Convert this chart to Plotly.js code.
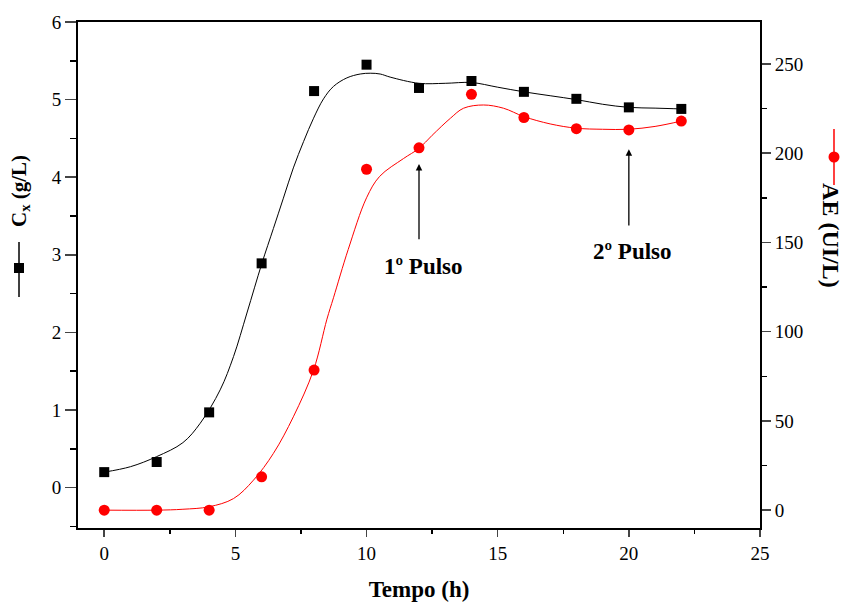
<!DOCTYPE html>
<html>
<head>
<meta charset="utf-8">
<script src="https://cdn.plot.ly/plotly-3.0.1.min.js"></script>
<style>
  html, body { margin: 0; padding: 0; background: #fff; }
  #chart { width: 843px; height: 604px; }
</style>
</head>
<body>
<div id="chart"></div>
<script>
// Sampling times (h)
const tempo = [0, 2, 4, 6, 8, 10, 12, 14, 16, 18, 20, 22];
// Biomass concentration Cx (g/L)
const cx = [0.20, 0.33, 0.97, 2.89, 5.11, 5.45, 5.15, 5.24, 5.10, 5.01, 4.90, 4.88];
// Enzyme activity AE (UI/L)
const ae = [0, 0, 0, 18.7, 78.5, 191, 203, 233, 220, 213.7, 213, 218];

// Smoothed fit through the Cx data
const cxFitT = [0, 1, 2, 3, 3.66, 4.42, 4.93, 5.44, 6.01, 6.45, 6.83, 7.21, 7.6, 7.98, 8.36, 8.74, 9.25, 9.76, 10.14, 10.52, 10.9, 12, 13, 14, 15, 16, 17, 18, 19, 20, 21, 22];
const cxFitV = [0.20, 0.27, 0.40, 0.58, 0.83, 1.26, 1.69, 2.25, 2.89, 3.34, 3.73, 4.12, 4.46, 4.76, 5.01, 5.17, 5.28, 5.33, 5.34, 5.33, 5.29, 5.21, 5.21, 5.22, 5.16, 5.10, 5.05, 5.00, 4.94, 4.90, 4.89, 4.88];

// Smoothed fit through the AE data
const aeFitT = [0, 2, 3, 4, 4.93, 5.69, 6.45, 7.21, 7.98, 8.49, 8.74, 9.3, 10.0, 10.5, 11.41, 12, 12.5, 13.2, 13.7, 14.46, 15.22, 16, 17, 18, 19, 20, 21, 22];
const aeFitV = [0, 0, 0.5, 1.9, 6.5, 16.8, 31.8, 52.3, 78.5, 107, 119, 146, 175, 187, 197, 202.7, 210, 219.6, 225.2, 227, 225.2, 220.5, 216.4, 214, 213.4, 213.4, 215, 218];

// Feed pulses: time, arrow head / tail (left-axis units), label
const pulsoT = [12, 20];
const pulsoHead = [4.17, 4.36];
const pulsoTail = [3.18, 3.36];
const pulsoLabelY = [2.85, 3.04];
const pulsoLabel = ['1º Pulso', '2º Pulso'];

const serif = 'Liberation Serif';

const traces = [
  { x: cxFitT, y: cxFitV, mode: 'lines', line: { color: '#000', width: 1, shape: 'spline', smoothing: 1 }, hoverinfo: 'skip', showlegend: false },
  { x: aeFitT, y: aeFitV, yaxis: 'y2', mode: 'lines', line: { color: '#ff0000', width: 1, shape: 'spline', smoothing: 1 }, hoverinfo: 'skip', showlegend: false },
  { x: tempo, y: cx, mode: 'markers', marker: { symbol: 'square', size: 10, color: '#000' }, name: 'Cx', showlegend: false },
  { x: tempo, y: ae, yaxis: 'y2', mode: 'markers', marker: { symbol: 'circle', size: 11, color: '#ff0000' }, name: 'AE', showlegend: false }
];

const annotations = [];
pulsoT.forEach((t, i) => {
  annotations.push({
    x: t, y: pulsoHead[i], ax: t, ay: pulsoTail[i], xref: 'x', yref: 'y', axref: 'x', ayref: 'y',
    text: '', showarrow: true, arrowhead: 2, arrowsize: 1, arrowwidth: 1.3, arrowcolor: '#000', standoff: 0, startstandoff: 0
  });
  annotations.push({
    x: t, y: pulsoLabelY[i], xref: 'x', yref: 'y', xshift: 4, text: '<b>' + pulsoLabel[i] + '</b>',
    showarrow: false, font: { family: serif, size: 23, color: '#000' }, xanchor: 'center', yanchor: 'middle'
  });
});

// Axis titles (the series keys beside them are drawn as shapes)
annotations.push({
  xref: 'paper', yref: 'paper', x: -0.085, y: 0.666, textangle: -90, showarrow: false,
  xanchor: 'center', yanchor: 'middle',
  text: '<b>C<sub>x</sub> (g/L)</b>', font: { family: serif, size: 21, color: '#000' }
});
annotations.push({
  xref: 'paper', yref: 'paper', x: 1.104, y: 0.577, textangle: 90, showarrow: false,
  xanchor: 'center', yanchor: 'middle',
  text: '<b>AE (UI/L)</b>', font: { family: serif, size: 24, color: '#000' }
});

// Series keys: a short line with the marker in the middle
const shapes = [
  { type: 'line', xref: 'paper', yref: 'paper', x0: -0.0865, x1: -0.0865, y0: 0.4565, y1: 0.5652, line: { color: '#000', width: 1.5 } },
  { type: 'rect', xref: 'paper', yref: 'paper', xsizemode: 'pixel', ysizemode: 'pixel', xanchor: -0.0865, yanchor: 0.5138,
    x0: -5, x1: 5, y0: -5, y1: 5, fillcolor: '#000', line: { width: 0 } },
  { type: 'line', xref: 'paper', yref: 'paper', x0: 1.1085, x1: 1.1085, y0: 0.6779, y1: 0.7885, line: { color: '#ff0000', width: 1.5 } },
  { type: 'circle', xref: 'paper', yref: 'paper', xsizemode: 'pixel', ysizemode: 'pixel', xanchor: 1.1085, yanchor: 0.7332,
    x0: -5.5, x1: 5.5, y0: -5.5, y1: 5.5, fillcolor: '#ff0000', line: { width: 0 } }
];

function tickFont() { return { family: serif, size: 19, color: '#000' }; }

const layout = {
  width: 843, height: 604,
  margin: { l: 78, r: 83, t: 22, b: 76 },
  font: { family: serif, size: 19, color: '#000' },
  paper_bgcolor: '#fff', plot_bgcolor: '#fff',
  showlegend: false,
  xaxis: {
    range: [-1, 25], tick0: 0, dtick: 5, ticks: 'outside', ticklen: 7, tickwidth: 1.5,
    minor: { dtick: 2.5, ticks: 'outside', ticklen: 4, tickwidth: 1.5, tickcolor: '#000' },
    showline: true, linewidth: 2, linecolor: '#000', mirror: true, showgrid: false, zeroline: false,
    tickfont: tickFont(),
    title: { text: '<b>Tempo (h)</b>', font: { family: serif, size: 23, color: '#000' }, standoff: 18 }
  },
  yaxis: {
    range: [-0.52, 6], tick0: 0, dtick: 1, ticks: 'outside', ticklen: 11, tickwidth: 1.5,
    minor: { dtick: 0.5, ticks: 'outside', ticklen: 6, tickwidth: 1.5, tickcolor: '#000' },
    showline: true, linewidth: 2, linecolor: '#000', showgrid: false, zeroline: false,
    tickfont: tickFont()
  },
  yaxis2: {
    overlaying: 'y', side: 'right',
    range: [-10, 273.5], tick0: 0, dtick: 50, ticks: 'outside', ticklen: 9, tickwidth: 1.5,
    minor: { dtick: 25, ticks: 'outside', ticklen: 5, tickwidth: 1.5, tickcolor: '#000' },
    showline: true, linewidth: 2, linecolor: '#000', showgrid: false, zeroline: false,
    tickfont: tickFont()
  },
  shapes: shapes,
  annotations: annotations
};

Plotly.newPlot('chart', traces, layout, { displayModeBar: false, staticPlot: true });
</script>
</body>
</html>
